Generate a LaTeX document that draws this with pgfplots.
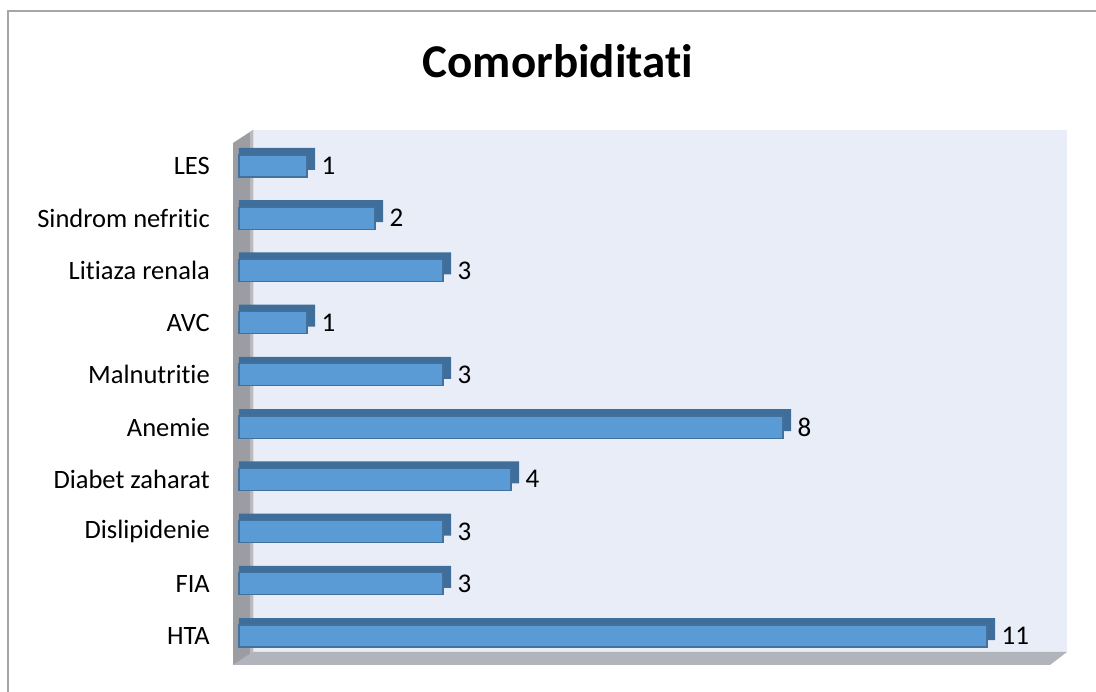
\documentclass[border=0pt]{standalone}
\usepackage{pgfplots}
\pgfplotsset{compat=1.18}
\usepackage{pgfplotstable}
\usepackage{fontspec}
\setmainfont{Carlito}[RawFeature={-liga;-clig;-dlig;-calt}]
\definecolor{barfront}{HTML}{5B9BD5}
\definecolor{baredge}{HTML}{41719C}
\definecolor{bardark}{HTML}{3F6E9A}
\definecolor{backwall}{HTML}{E9EDF8}
\definecolor{sidewall}{HTML}{9C9DA2}
\definecolor{floorc}{HTML}{B2B4BB}
\definecolor{frameline}{HTML}{A6A6A6}
\pgfplotstableread{
y v
0 11
1 3
2 3
3 4
4 8
5 3
6 1
7 3
8 2
9 1
}\datatable
\begin{document}
\begin{tikzpicture}
\useasboundingbox (0,0) rectangle (1096pt,692pt);
% outer frame
\draw[frameline, line width=1.5pt] (8pt,0pt) -- (8pt,681pt) -- (1096pt,681pt);
% title
\node[anchor=base, font=\fontsize{47}{50}\selectfont\bfseries, inner sep=0pt] at (558pt,614pt) {Comorbiditati};
% back wall
\fill[backwall] (253pt,40pt) rectangle (1067pt,562pt);
% floor
\fill[floorc] (233pt,27pt) -- (253pt,40pt) -- (1067pt,40pt) -- (1050pt,27pt) -- cycle;
% left wall
\fill[sidewall] (233pt,549pt) -- (253pt,562pt) -- (253pt,40pt) -- (233pt,27pt) -- cycle;
\fill[sidewall!70!white] (250pt,560pt) -- (253pt,562pt) -- (253pt,40pt) -- (250pt,38pt) -- cycle;
\begin{axis}[
  at={(233pt,27pt)}, anchor=south west,
  scale only axis, width=817pt, height=522pt,
  xmin=-0.0882, xmax=11.926,
  ymin=-0.555, ymax=9.44,
  axis line style={draw=none},
  xtick=\empty,
  ytick={0,...,9},
  yticklabels={HTA,FIA,Dislipidenie,Diabet zaharat\hspace{5pt},Anemie,Malnutritie,AVC,Litiaza renala,Sindrom nefritic,LES},
  major tick length=0pt,
  yticklabel style={anchor=east, inner sep=0pt, xshift=-23pt, font=\fontsize{26.5}{30}\selectfont},
  /pgf/number format/assume math mode=true,
  xbar, bar width=22pt,
  clip=false,
]
\addplot[fill=bardark, draw=none, bar shift=7pt, forget plot] table[x expr=\thisrow{v}+0.118, y=y] {\datatable};
\addplot[fill=barfront, draw=baredge, line width=1.2pt, bar shift=0pt,
  nodes near coords,
  nodes near coords style={anchor=west, inner sep=0pt, xshift=14pt, font=\fontsize{27}{30}\selectfont, text=black}
] table[x=v, y=y] {\datatable};
\end{axis}
\end{tikzpicture}
\end{document}
